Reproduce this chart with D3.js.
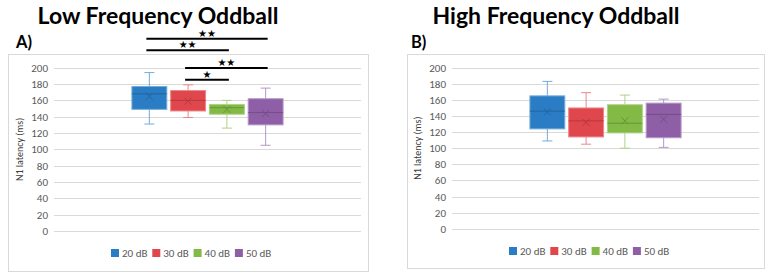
<!DOCTYPE html>
<html><head><meta charset="utf-8">
<script src="https://cdn.jsdelivr.net/npm/d3@7"></script>
<style>body{margin:0;background:#fff;}svg{display:block;}</style>
</head><body>
<svg id="c" width="769" height="276"></svg>
<script>
const seriesNames = ["20 dB", "30 dB", "40 dB", "50 dB"];
const seriesColors = ["#2a7dc4", "#e0474c", "#82ba45", "#8e5fa7"];
const yTicks = [0, 20, 40, 60, 80, 100, 120, 140, 160, 180, 200];
// Low frequency oddball
const lowMin = [131, 139, 126, 105];
const lowQ1 = [149, 147, 143, 130];
const lowMedian = [168, 160, 151, 145];
const lowQ3 = [177, 172, 155, 162];
const lowMax = [194, 179, 160, 175];
const lowMean = [165, 159, 149, 144];
// High frequency oddball
const highMin = [109, 105, 100, 101];
const highQ1 = [124, 114, 119, 113];
const highMedian = [146, 134, 131, 142];
const highQ3 = [165, 150, 154, 156];
const highMax = [183, 169, 166, 161];
const highMean = [145, 132, 134, 136];
// significance brackets (low chart)
const sigFrom = [0, 0, 1, 1];
const sigTo = [3, 2, 3, 2];
const sigLabel = ["★★", "★★", "★★", "★"];

const svg = d3.select("#c");
const font = "Calibri, Carlito, 'Open Sans', sans-serif";

function draw(cfg) {
  const g = svg.append("g");
  g.append("text").attr("x", cfg.titleX).attr("y", 24).attr("text-anchor", "middle")
    .attr("font-family", "Lato, sans-serif").attr("font-weight", 700).attr("font-size", 23)
    .attr("fill", "#000").text(cfg.title);
  g.append("text").attr("x", cfg.letterX).attr("y", 48)
    .attr("font-family", "Lato, sans-serif").attr("font-weight", 700).attr("font-size", 16.5)
    .attr("fill", "#000").text(cfg.letter);
  g.append("rect").attr("x", cfg.panel[0] + 0.5).attr("y", cfg.panel[1] + 0.5)
    .attr("width", cfg.panel[2]).attr("height", cfg.panel[3])
    .attr("fill", "#fff").attr("stroke", "#d9d9d9");
  const y = d3.scaleLinear().domain([0, 200]).range([cfg.y0, cfg.y200]);
  const x = d3.scaleBand().domain(["g"]).range([cfg.px0, cfg.px1]).paddingInner(0).paddingOuter(0.49);
  const xs = d3.scaleBand().domain(seriesNames).range([x("g"), x("g") + x.bandwidth()]).paddingInner(0.1).paddingOuter(0.05);
  g.append("g").selectAll("line").data(yTicks).join("line")
    .attr("x1", cfg.px0).attr("x2", cfg.px1)
    .attr("y1", d => Math.round(y(d)) + 0.5).attr("y2", d => Math.round(y(d)) + 0.5)
    .attr("stroke", "#d9d9d9").attr("stroke-width", 1);
  const ax = g.append("g").attr("transform", `translate(${cfg.px0 - 6},0)`)
    .call(d3.axisLeft(y).tickValues(yTicks).tickSize(0).tickPadding(0));
  ax.select(".domain").remove();
  ax.selectAll("text").attr("font-family", font).attr("font-size", 11).attr("fill", "#595959");
  g.append("text").attr("transform", `translate(${cfg.ylabX},${(cfg.y0 + cfg.y200) / 2}) rotate(-90)`)
    .attr("text-anchor", "middle").attr("font-family", font).attr("font-size", 10).attr("fill", "#404040")
    .text("N1 latency (ms)");
  const d = cfg.data;
  seriesNames.forEach((s, i) => {
    const bx = xs(s), bw = xs.bandwidth(), cx = bx + bw / 2;
    const c = d3.color(seriesColors[i]);
    const light = d3.interpolateRgb(seriesColors[i], "#fff")(0.35);
    const dark = c.darker(0.6);
    const wg = g.append("g");
    wg.append("line").attr("x1", cx).attr("x2", cx).attr("y1", y(d.max[i])).attr("y2", y(d.q3[i])).attr("stroke", light);
    wg.append("line").attr("x1", cx).attr("x2", cx).attr("y1", y(d.q1[i])).attr("y2", y(d.min[i])).attr("stroke", light);
    wg.append("line").attr("x1", cx - 5).attr("x2", cx + 5).attr("y1", y(d.max[i])).attr("y2", y(d.max[i])).attr("stroke", light);
    wg.append("line").attr("x1", cx - 5).attr("x2", cx + 5).attr("y1", y(d.min[i])).attr("y2", y(d.min[i])).attr("stroke", light);
    wg.append("rect").attr("x", bx).attr("y", y(d.q3[i])).attr("width", bw).attr("height", y(d.q1[i]) - y(d.q3[i]))
      .attr("fill", seriesColors[i]).attr("stroke", light).attr("stroke-width", 1);
    wg.append("line").attr("x1", bx).attr("x2", bx + bw).attr("y1", y(d.med[i])).attr("y2", y(d.med[i]))
      .attr("stroke", dark).attr("stroke-width", 1);
    const my = y(d.mean[i]);
    wg.append("path").attr("d", `M${cx - 3.5},${my - 3.5}L${cx + 3.5},${my + 3.5}M${cx - 3.5},${my + 3.5}L${cx + 3.5},${my - 3.5}`)
      .attr("stroke", dark).attr("stroke-width", 1);
  });
  const lg = g.append("g");
  seriesNames.forEach((s, i) => {
    const lx = cfg.legX + i * 41.3;
    lg.append("rect").attr("x", lx).attr("y", cfg.legY - 4).attr("width", 8).attr("height", 8).attr("fill", seriesColors[i]);
    lg.append("text").attr("x", lx + 11).attr("y", cfg.legY + 4).attr("font-family", font).attr("font-size", 11)
      .attr("fill", "#595959").text(s);
  });
  return { x: xs, y };
}

const L = draw({
  title: "Low Frequency Oddball", titleX: 158, letter: "A)", letterX: 16,
  panel: [8, 54, 360, 217], y0: 231, y200: 67.7, px0: 54, px1: 361, ylabX: 23,
  legX: 111, legY: 253,
  data: { min: lowMin, q1: lowQ1, med: lowMedian, q3: lowQ3, max: lowMax, mean: lowMean }
});
draw({
  title: "High Frequency Oddball", titleX: 556, letter: "B)", letterX: 411,
  panel: [407, 54, 357, 214], y0: 228.7, y200: 67.7, px0: 452, px1: 759, ylabX: 421,
  legX: 509, legY: 251,
  data: { min: highMin, q1: highQ1, med: highMedian, q3: highQ3, max: highMax, mean: highMean }
});

const lineY = [38.7, 50.3, 68, 79.7];
const sg = svg.append("g");
sigFrom.forEach((f, k) => {
  const x1 = L.x(seriesNames[f]) + L.x.bandwidth() / 2 - 3;
  const x2 = L.x(seriesNames[sigTo[k]]) + L.x.bandwidth() / 2 + 2;
  sg.append("line").attr("x1", x1).attr("x2", x2).attr("y1", lineY[k]).attr("y2", lineY[k])
    .attr("stroke", "#000").attr("stroke-width", 2);
  sg.append("text").attr("x", (x1 + x2) / 2).attr("y", lineY[k] - 2).attr("text-anchor", "middle")
    .attr("font-family", "DejaVu Sans, sans-serif").attr("font-size", 10).attr("fill", "#000").text(sigLabel[k]);
});
</script>
</body></html>
